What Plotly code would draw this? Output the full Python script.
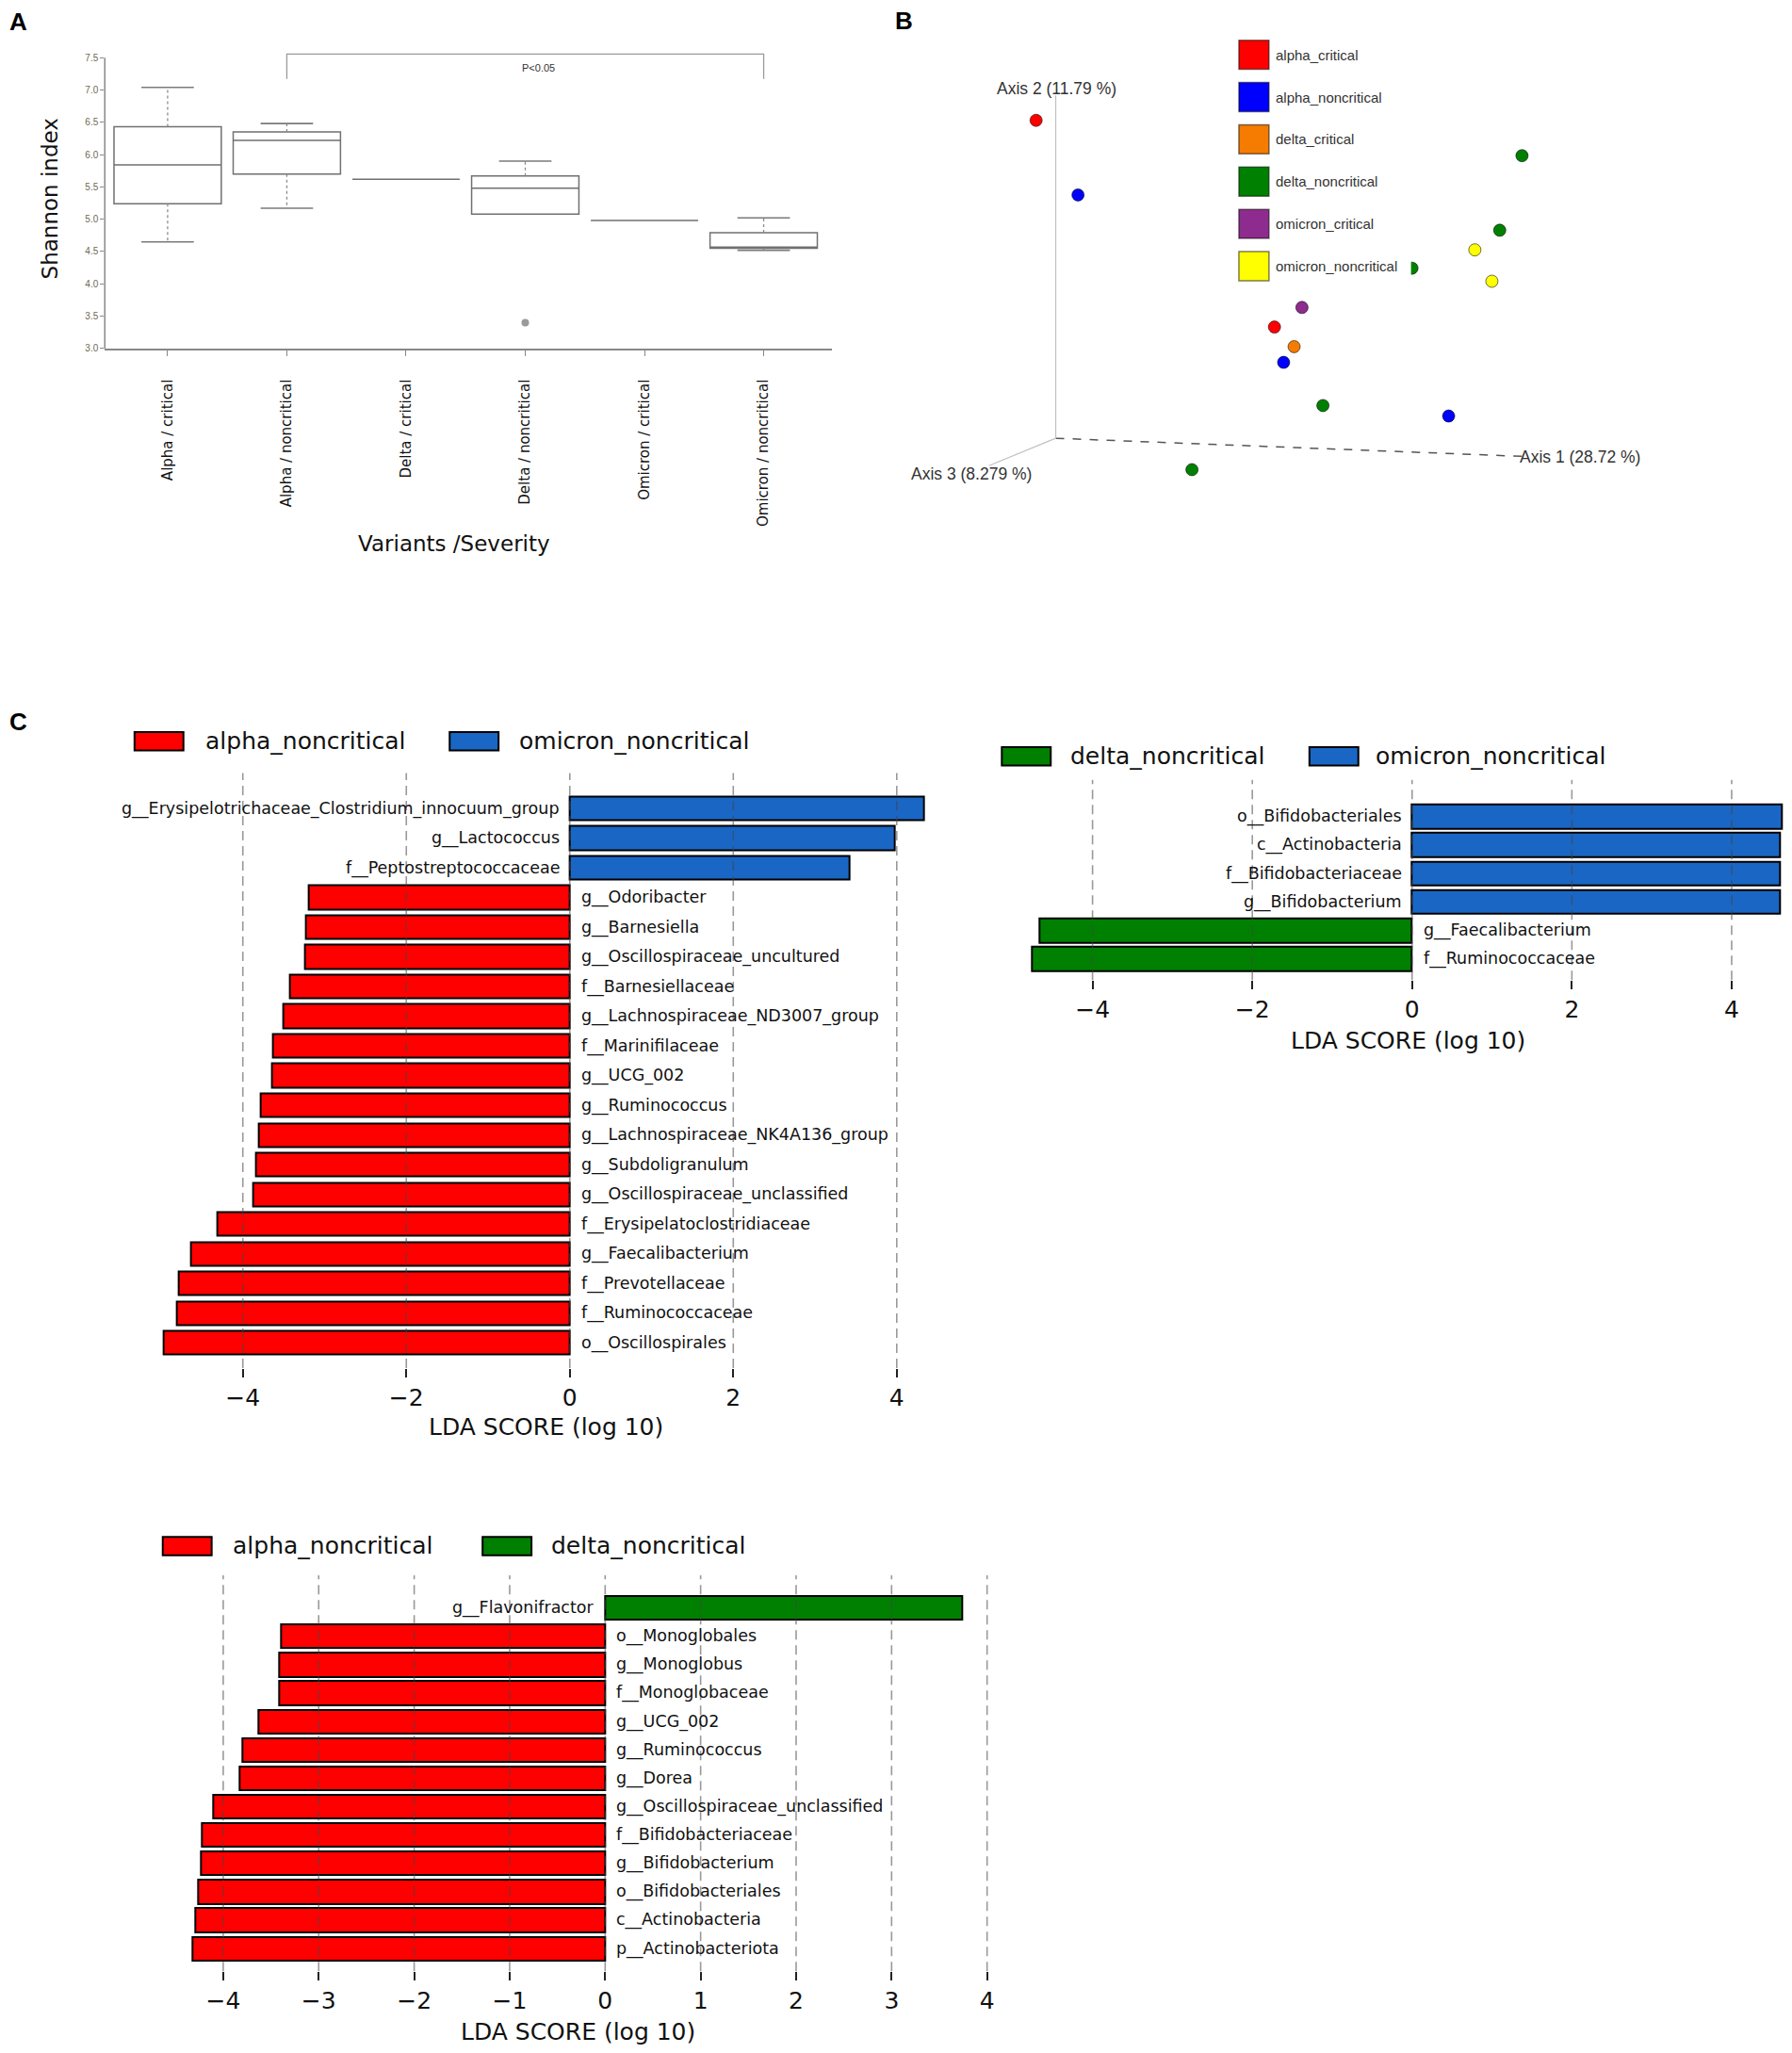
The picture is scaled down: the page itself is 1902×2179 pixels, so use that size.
import plotly.graph_objects as go

W, H = 1902, 2179
OFF = 8  # the page body margin pushes the plot 8px right/down

# ---- A: Shannon index box plot (summary stats)
box_groups = ["Alpha / critical", "Alpha / noncritical", "Delta / critical",
              "Delta / noncritical", "Omicron / critical", "Omicron / noncritical"]
shannon_min = [4.65, 5.17, 5.62, 5.08, 4.98, 4.52]
shannon_q1 = [5.24, 5.70, 5.62, 5.08, 4.98, 4.55]
shannon_med = [5.84, 6.22, 5.62, 5.48, 4.98, 4.57]
shannon_q3 = [6.43, 6.35, 5.62, 5.67, 4.98, 4.79]
shannon_max = [7.04, 6.48, 5.62, 5.90, 4.98, 5.02]
outlier_group = [3]
outlier_value = [3.40]
shannon_ticks = [3.0, 3.5, 4.0, 4.5, 5.0, 5.5, 6.0, 6.5, 7.0, 7.5]
sig_pair = [1, 5]
sig_label = "P<0.05"

# ---- B: PCoA (projected 3D coordinates)
pcoa_groups = ["alpha_critical", "alpha_noncritical", "delta_critical",
               "delta_noncritical", "omicron_critical", "omicron_noncritical"]
pcoa_colors = ["#ff0000", "#0000ff", "#f57c00", "#008000", "#8e2b8e", "#ffff00"]
pcoa_x = {
    "alpha_critical": [-0.15, 1.67],
    "alpha_noncritical": [0.17, 1.74, 3.00],
    "delta_critical": [1.82],
    "delta_noncritical": [3.56, 3.39, 2.72, 2.04, 1.04],
    "omicron_critical": [1.88],
    "omicron_noncritical": [3.20, 3.33],
}
pcoa_y = {
    "alpha_critical": [2.43, 0.85],
    "alpha_noncritical": [1.86, 0.58, 0.17],
    "delta_critical": [0.70],
    "delta_noncritical": [2.16, 1.59, 1.30, 0.25, -0.24],
    "omicron_critical": [1.00],
    "omicron_noncritical": [1.44, 1.20],
}
axis_names = ["Axis 1 (28.72 %)", "Axis 2 (11.79 %)", "Axis 3 (8.279 %)"]
axis_ends = [(3.60, -0.14), (0.0, 2.62), (-0.51, -0.21)]

# ---- C: LEfSe LDA scores (top to bottom)
lda1_taxa = ["g__Erysipelotrichaceae_Clostridium_innocuum_group", "g__Lactococcus",
             "f__Peptostreptococcaceae", "g__Odoribacter", "g__Barnesiella",
             "g__Oscillospiraceae_uncultured", "f__Barnesiellaceae",
             "g__Lachnospiraceae_ND3007_group", "f__Marinifilaceae", "g__UCG_002",
             "g__Ruminococcus", "g__Lachnospiraceae_NK4A136_group", "g__Subdoligranulum",
             "g__Oscillospiraceae_unclassified", "f__Erysipelatoclostridiaceae",
             "g__Faecalibacterium", "f__Prevotellaceae", "f__Ruminococcaceae",
             "o__Oscillospirales"]
lda1_scores = [4.33, 3.98, 3.42, -3.20, -3.23, -3.24, -3.42, -3.50, -3.63, -3.64,
               -3.78, -3.80, -3.84, -3.87, -4.31, -4.64, -4.78, -4.81, -4.97]

lda2_taxa = ["o__Bifidobacteriales", "c__Actinobacteria", "f__Bifidobacteriaceae",
             "g__Bifidobacterium", "g__Faecalibacterium", "f__Ruminococcaceae"]
lda2_scores = [4.63, 4.61, 4.61, 4.60, -4.67, -4.76]

lda3_taxa = ["g__Flavonifractor", "o__Monoglobales", "g__Monoglobus", "f__Monoglobaceae",
             "g__UCG_002", "g__Ruminococcus", "g__Dorea", "g__Oscillospiraceae_unclassified",
             "f__Bifidobacteriaceae", "g__Bifidobacterium", "o__Bifidobacteriales",
             "c__Actinobacteria", "p__Actinobacteriota"]
lda3_scores = [3.74, -3.39, -3.41, -3.41, -3.63, -3.80, -3.83, -4.10, -4.22, -4.23,
               -4.26, -4.29, -4.32]

class_colors = {"alpha_noncritical": "#ff0000", "omicron_noncritical": "#1a66c4",
                "delta_noncritical": "#008000"}
lda_ticks_even = [-4, -2, 0, 2, 4]
lda_ticks_unit = [-4, -3, -2, -1, 0, 1, 2, 3, 4]

FW, FH = W - OFF, H - OFF


def px(x):
    return (x - OFF) / FW


def py(y):
    return 1 - (y - OFF) / FH


fig = go.Figure()
shapes = []
annotations = []
FONT = "DejaVu Sans, Verdana, sans-serif"
ARIAL = "Liberation Sans, Arial, sans-serif"


def note(**kw):
    kw.setdefault("showarrow", False)
    kw.setdefault("xanchor", "center")
    kw.setdefault("yanchor", "middle")
    annotations.append(kw)


# ================= Panel A =================
n = len(box_groups)
fig.add_trace(go.Box(
    x=list(range(n)), q1=shannon_q1, median=shannon_med, q3=shannon_q3,
    lowerfence=shannon_q1, upperfence=shannon_q3, width=0.9, whiskerwidth=0,
    fillcolor="white", line=dict(color="#707070", width=1.5),
    xaxis="x", yaxis="y", showlegend=False, hoverinfo="skip"))

wx, wy, cx, cy = [], [], [], []
for i in range(n):
    if shannon_max[i] > shannon_q3[i]:
        wx += [i, i, None]
        wy += [shannon_q3[i], shannon_max[i], None]
        cx += [i - 0.22, i + 0.22, None]
        cy += [shannon_max[i], shannon_max[i], None]
    if shannon_min[i] < shannon_q1[i]:
        wx += [i, i, None]
        wy += [shannon_q1[i], shannon_min[i], None]
        cx += [i - 0.22, i + 0.22, None]
        cy += [shannon_min[i], shannon_min[i], None]
fig.add_trace(go.Scatter(x=wx, y=wy, mode="lines", line=dict(color="#8a8a8a", width=1.3, dash="dot"),
                         xaxis="x", yaxis="y", showlegend=False, hoverinfo="skip"))
fig.add_trace(go.Scatter(x=cx, y=cy, mode="lines", line=dict(color="#7a7a7a", width=1.6),
                         xaxis="x", yaxis="y", showlegend=False, hoverinfo="skip"))
fig.add_trace(go.Scatter(x=outlier_group, y=outlier_value, mode="markers",
                         marker=dict(color="#9a9a9a", size=8),
                         xaxis="x", yaxis="y", showlegend=False, hoverinfo="skip"))
top = 7.556
foot = 7.17
fig.add_trace(go.Scatter(x=[sig_pair[0], sig_pair[0], sig_pair[1], sig_pair[1]],
                         y=[foot, top, top, foot], mode="lines",
                         line=dict(color="#9a9a9a", width=1.3),
                         xaxis="x", yaxis="y", showlegend=False, hoverinfo="skip"))
# y axis line only up to 7.5 (range extends a bit for the bracket)
shapes.append(dict(type="line", xref="x domain", yref="y", x0=0, x1=0, y0=3.0, y1=7.5,
                   line=dict(color="#888", width=1.5)))
note(x=(sig_pair[0] + sig_pair[1]) / 2 + 0.11, y=7.34, xref="x", yref="y", text=sig_label,
     font=dict(family=ARIAL, size=11, color="#333"))
note(x=px(53.5), y=py(211.6), xref="paper", yref="paper", text="Shannon index",
     textangle=-90, font=dict(family=FONT, size=23, color="#111"))
note(x=px(483), y=py(578.5), xref="paper", yref="paper", text="Variants /Severity",
     font=dict(family=FONT, size=23, color="#111"))

# ================= Panel B =================
axis_styles = [dict(color="#555", width=1.5, dash="dash"),
               dict(color="#c0c0c0", width=1.2),
               dict(color="#c0c0c0", width=1.2)]
for (ex, ey), st in zip(axis_ends, axis_styles):
    fig.add_trace(go.Scatter(x=[0, ex], y=[0, ey], mode="lines", line=st,
                             xaxis="x2", yaxis="y2", showlegend=False, hoverinfo="skip"))
for g, col in zip(pcoa_groups, pcoa_colors):
    fig.add_trace(go.Scatter(
        x=pcoa_x[g], y=pcoa_y[g], mode="markers", name=g,
        marker=dict(color=col, size=13, line=dict(color="rgba(0,0,0,0.55)", width=1)),
        xaxis="x2", yaxis="y2", showlegend=False, hoverinfo="skip"))

note(x=axis_ends[0][0] - 0.07, y=axis_ends[0][1], xref="x2", yref="y2",
     text=axis_names[0], xanchor="left", font=dict(family=ARIAL, size=17.5, color="#333"))
note(x=axis_ends[1][0] + 0.01, y=axis_ends[1][1] + 0.05, xref="x2", yref="y2",
     text=axis_names[1], font=dict(family=ARIAL, size=17.5, color="#333"))
note(x=axis_ends[2][0] + 0.34, y=axis_ends[2][1] - 0.06, xref="x2", yref="y2",
     text=axis_names[2], xanchor="right", font=dict(family=ARIAL, size=17.5, color="#333"))

# legend for B (white box covers points behind it, as in the original)
shapes.append(dict(type="rect", xref="paper", yref="paper", x0=px(1306), x1=px(1500),
                   y0=py(301), y1=py(36), fillcolor="white", line=dict(width=0), layer="above"))
for i, (g, col) in enumerate(zip(pcoa_groups, pcoa_colors)):
    yc = 58.3 + 45.0 * i
    shapes.append(dict(type="rect", xref="paper", yref="paper", x0=px(1317), x1=px(1349),
                       y0=py(yc + 15.5), y1=py(yc - 15.5), fillcolor=col,
                       line=dict(color="rgba(0,0,0,0.5)", width=1.5), layer="above"))
    note(x=px(1354), y=py(yc), xref="paper", yref="paper", text=g, xanchor="left",
         font=dict(family=ARIAL, size=15, color="#333"))


# ================= Panel C =================
def add_lda(k, taxa, scores, neg_cls, pos_cls, bar_w, ticks):
    m = len(taxa)
    pos = [m - 1 - i for i in range(m)]
    cols = [class_colors[pos_cls] if s > 0 else class_colors[neg_cls] for s in scores]
    fig.add_trace(go.Bar(x=scores, y=pos, orientation="h", width=bar_w,
                         marker=dict(color=cols, line=dict(color="black", width=2)),
                         xaxis=f"x{k}", yaxis=f"y{k}", showlegend=False, hoverinfo="skip"))
    for t, s, p in zip(taxa, scores, pos):
        note(x=0, y=p, xref=f"x{k}", yref=f"y{k}", text=t,
             xanchor="right" if s > 0 else "left", xshift=-9 if s > 0 else 10,
             font=dict(family=FONT, size=17.5, color="#111"))
    for t in ticks:
        shapes.append(dict(type="line", xref=f"x{k}", yref=f"y{k} domain", x0=t, x1=t, y0=0, y1=1,
                           line=dict(color="rgba(70,70,70,0.55)", width=1.6, dash="10px,6px"),
                           layer="above"))


add_lda(3, lda1_taxa, lda1_scores, "alpha_noncritical", "omicron_noncritical", 0.8, lda_ticks_even)
add_lda(4, lda2_taxa, lda2_scores, "delta_noncritical", "omicron_noncritical", 0.85, lda_ticks_even)
add_lda(5, lda3_taxa, lda3_scores, "alpha_noncritical", "delta_noncritical", 0.84, lda_ticks_unit)

lda_legends = [
    (789.0, [(143, 216, "alpha_noncritical"), (478, 550, "omicron_noncritical")]),
    (805.0, [(1065, 1136, "delta_noncritical"), (1392, 1460, "omicron_noncritical")]),
    (1645.5, [(173, 245, "alpha_noncritical"), (513, 584, "delta_noncritical")]),
]
for yc, items in lda_legends:
    for sx, tx, cls in items:
        shapes.append(dict(type="rect", xref="paper", yref="paper", x0=px(sx), x1=px(sx + 52),
                           y0=py(yc + 9.8), y1=py(yc - 9.8), fillcolor=class_colors[cls],
                           line=dict(color="black", width=2), layer="above"))
        note(x=px(tx), y=py(yc), xref="paper", yref="paper", text=cls, xanchor="left",
             font=dict(family=FONT, size=25, color="#111"))

for xc, yc in [(580, 1519), (1497, 1108), (614, 2162)]:
    note(x=px(xc), y=py(yc), xref="paper", yref="paper", text="LDA SCORE (log 10)",
         font=dict(family=FONT, size=25, color="#111"))

# panel letters
for letter, (lx, ly) in zip("ABC", [(19.5, 23), (961, 22), (19.5, 768)]):
    note(x=px(lx), y=py(ly), xref="paper", yref="paper", text=f"<b>{letter}</b>",
         font=dict(family=ARIAL, size=26, color="black"))


def lda_xaxis(dom, rng, ticks, anchor):
    return dict(domain=dom, range=rng, tickvals=ticks, ticks="outside", ticklen=9, tickwidth=2,
                tickcolor="#222", showgrid=False, zeroline=False, showline=False, anchor=anchor,
                tickfont=dict(family=FONT, size=25, color="#111"))


def hidden_y(dom, rng, anchor):
    return dict(domain=dom, range=rng, visible=False, anchor=anchor, fixedrange=True)


# y axis of A: 7.5 at 61.3px, 3.0 at 370.9px; range extended to 7.6 for the bracket
a_top = 61.3 - (370.9 - 61.3) / 4.5 * 0.1

fig.update_layout(
    width=FW, height=FH, margin=dict(l=0, r=0, t=0, b=0),
    paper_bgcolor="white", plot_bgcolor="rgba(0,0,0,0)",
    showlegend=False, bargap=0,
    xaxis=dict(domain=[px(111.4), px(884.2)], range=[-0.527, 5.571], tickvals=list(range(n)),
               ticktext=box_groups, tickangle=-90, ticks="outside", ticklen=6, tickcolor="#888",
               showline=True, linecolor="#888", linewidth=1.5, showgrid=False, zeroline=False,
               tickfont=dict(family=FONT, size=15, color="#111"), ticklabelstandoff=19, anchor="y"),
    yaxis=dict(domain=[py(370.9), py(a_top)], range=[3.0, 7.6], tickvals=shannon_ticks,
               ticktext=[f"{v:.1f}" for v in shannon_ticks], ticks="outside", ticklen=4,
               tickcolor="#888", showline=False, showgrid=False,
               zeroline=False, tickfont=dict(family=ARIAL, size=10, color="#6b6b50"), anchor="x"),
    xaxis2=dict(domain=[px(960.8), 1.0], range=[-1.16, 5.60], visible=False, anchor="y2"),
    yaxis2=dict(domain=[py(543), py(27.8)], range=[-0.55, 3.15], visible=False, anchor="x2"),
    xaxis3=lda_xaxis([px(166.9), px(992.4)], [-5.05, 4.45], lda_ticks_even, "y3"),
    yaxis3=hidden_y([py(1456), py(822.8)], [-0.85, 19.19], "x3"),
    xaxis4=lda_xaxis([px(1085), 1.0], [-4.9, 4.72], lda_ticks_even, "y4"),
    yaxis4=hidden_y([py(1043), py(830)], [-0.74, 6.29], "x4"),
    xaxis5=lda_xaxis([px(191.6), px(1054.4)], [-4.45, 4.05], lda_ticks_unit, "y5"),
    yaxis5=hidden_y([py(2098), py(1676.5)], [-0.8, 13.15], "x5"),
    shapes=shapes, annotations=annotations,
)

fig.write_html("out.html")
